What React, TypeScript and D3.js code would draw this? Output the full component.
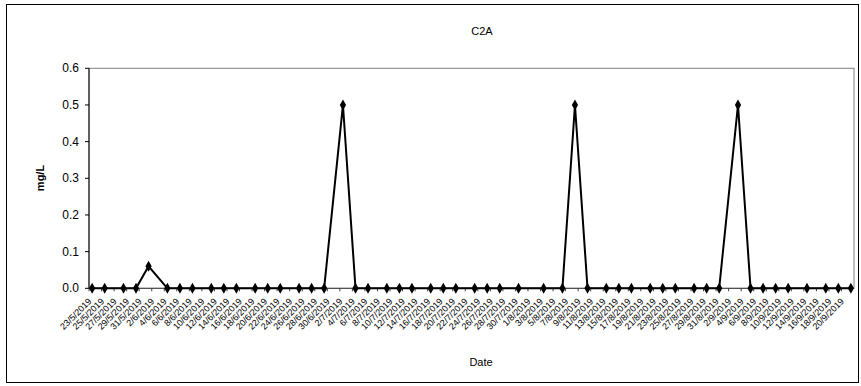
import React from "react";
import * as d3 from "d3";

const title = "C2A";
const xTitle = "Date";
const yTitle = "mg/L";

const sampleDates = [
  "23/5/2019", "25/5/2019", "28/5/2019", "30/5/2019", "1/6/2019", "4/6/2019", "6/6/2019", "8/6/2019",
  "11/6/2019", "13/6/2019", "15/6/2019", "18/6/2019", "20/6/2019", "22/6/2019", "25/6/2019", "27/6/2019",
  "29/6/2019", "2/7/2019", "4/7/2019", "6/7/2019", "9/7/2019", "11/7/2019", "13/7/2019", "16/7/2019",
  "18/7/2019", "20/7/2019", "23/7/2019", "25/7/2019", "27/7/2019", "30/7/2019", "3/8/2019", "6/8/2019",
  "8/8/2019", "10/8/2019", "13/8/2019", "15/8/2019", "17/8/2019", "20/8/2019", "22/8/2019", "24/8/2019",
  "27/8/2019", "29/8/2019", "31/8/2019", "3/9/2019", "5/9/2019", "7/9/2019", "9/9/2019", "11/9/2019",
  "14/9/2019", "17/9/2019", "19/9/2019", "21/9/2019",
];

const values = [
  0, 0, 0, 0, 0.06, 0, 0, 0,
  0, 0, 0, 0, 0, 0, 0, 0,
  0, 0.5, 0, 0, 0, 0, 0, 0,
  0, 0, 0, 0, 0, 0, 0, 0,
  0.5, 0, 0, 0, 0, 0, 0, 0,
  0, 0, 0, 0.5, 0, 0, 0, 0,
  0, 0, 0, 0,
];

const yTicks = [0, 0.1, 0.2, 0.3, 0.4, 0.5, 0.6];
const axisStart = "23/5/2019";
const axisEnd = "21/9/2019";
const labelStepDays = 2;

const W = 861;
const H = 386;
const plot = { left: 89, right: 854, top: 68.3, bottom: 288.3 };

export default function App() {
  const parse = d3.timeParse("%d/%m/%Y");
  const fmt = d3.timeFormat("%-d/%-m/%Y");
  const start = parse(axisStart)!;
  const end = parse(axisEnd)!;
  const x = d3
    .scaleTime()
    .domain([d3.timeHour.offset(start, -12), d3.timeHour.offset(end, 12)])
    .range([plot.left, plot.right]);
  const y = d3.scaleLinear().domain([0, 0.6]).range([plot.bottom, plot.top]);

  const pts = sampleDates.map((s, i) => ({ date: parse(s)!, v: values[i] }));
  const line = d3
    .line<{ date: Date; v: number }>()
    .x((d) => x(d.date))
    .y((d) => y(d.v));

  const labels: Date[] = [];
  for (let d = start; d < end; d = d3.timeDay.offset(d, labelStepDays)) labels.push(d);

  const diamond = d3.symbol(d3.symbolDiamond, 34)();

  return (
    <svg
      width={W}
      height={H}
      style={{ position: "absolute", left: 0, top: 0, background: "#fff" }}
      fontFamily="'Liberation Sans', Arial, sans-serif"
    >
      <rect x={6.5} y={4.5} width={852} height={378} fill="#fff" stroke="#000" strokeWidth={1} />
      <text x={482} y={35} textAnchor="middle" fontSize={11}>
        {title}
      </text>
      <rect
        x={plot.left}
        y={plot.top}
        width={plot.right - plot.left}
        height={plot.bottom - plot.top}
        fill="#fff"
        stroke="#808080"
        strokeWidth={1}
      />
      <line x1={plot.left} x2={plot.left} y1={plot.top} y2={plot.bottom} stroke="#000" />
      {yTicks.map((t) => (
        <g key={t}>
          <line x1={plot.left - 4} x2={plot.left} y1={y(t)} y2={y(t)} stroke="#000" />
          <text x={79} y={y(t) + 4} textAnchor="end" fontSize={12}>
            {d3.format(".1f")(t)}
          </text>
        </g>
      ))}
      <line x1={plot.left} x2={plot.right} y1={plot.bottom} y2={plot.bottom} stroke="#404040" />
      {labels.map((d, i) => {
        const cx = x(d);
        return (
          <g key={i}>
            <line x1={cx - 3.1} x2={cx - 3.1} y1={plot.bottom} y2={plot.bottom + 3} stroke="#404040" />
            <text
              transform={`translate(${cx},${302}) rotate(-45)`}
              textAnchor="end"
              fontSize={9}
            >
              {fmt(d)}
            </text>
          </g>
        );
      })}
      <path d={line(pts) ?? ""} fill="none" stroke="#000" strokeWidth={2} />
      {pts.map((p, i) => (
        <path key={i} d={diamond ?? ""} transform={`translate(${x(p.date)},${y(p.v)})`} fill="#000" />
      ))}
      <text x={481} y={366} textAnchor="middle" fontSize={11}>
        {xTitle}
      </text>
      <text
        transform={`translate(44,178) rotate(-90)`}
        textAnchor="middle"
        fontSize={11}
        fontWeight="bold"
      >
        {yTitle}
      </text>
    </svg>
  );
}
